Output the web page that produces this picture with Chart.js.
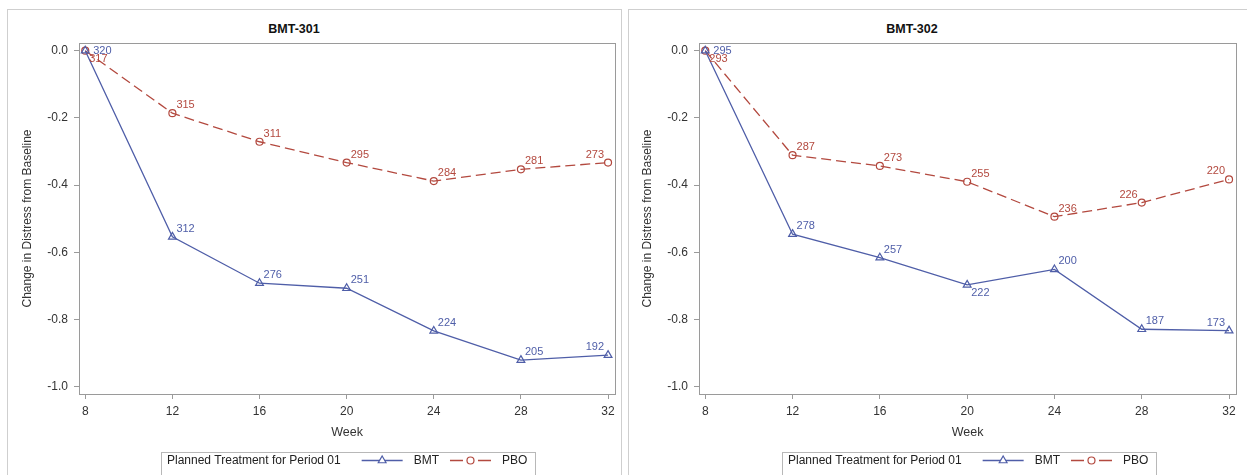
<!DOCTYPE html>
<html lang="en">
<head>
<meta charset="UTF-8" />
<title>Change in Distress from Baseline by Week</title>
<script src="https://cdn.jsdelivr.net/npm/chart.js@4/dist/chart.umd.min.js"></script>
<style>
  *, *::before, *::after { box-sizing: border-box; margin: 0; padding: 0; }
  body {
    width: 1247px;
    height: 475px;
    overflow: hidden;
    background: #fff;
    position: relative;
    font-family: 'Liberation Sans', Arial, sans-serif;
    color: #222;
  }
  .panel { position: absolute; top: 9px; height: 480px; border: 1px solid #cfcfcf; }
  .panel--left { left: 7px; width: 615px; }
  .panel--right { left: 628px; width: 630px; }
  .panel__title {
    position: absolute;
    top: 22px;
    transform: translateX(-50%);
    font-weight: bold;
    font-size: 12.5px;
    line-height: 14px;
    color: #111;
    white-space: nowrap;
  }
  canvas { position: absolute; top: 0; display: block; }
</style>
</head>
<body>
  <div class="panel panel--left"></div>
  <div class="panel panel--right"></div>
  <div class="panel__title" style="left:294px">BMT-301</div>
  <div class="panel__title" style="left:912px">BMT-302</div>
  <canvas id="study301" width="621" height="475" style="left:0"></canvas>
  <canvas id="study302" width="622" height="475" style="left:620px"></canvas>

<script>
  const weeks = [8, 12, 16, 20, 24, 28, 32];
  const yTicks = [0, -0.2, -0.4, -0.6, -0.8, -1.0];

  // BMT-301: mean change and n per visit
  const bmt301Change = [0, -0.554, -0.692, -0.707, -0.834, -0.921, -0.906];
  const bmt301N = [320, 312, 276, 251, 224, 205, 192];
  const pbo301Change = [0, -0.186, -0.271, -0.333, -0.388, -0.353, -0.333];
  const pbo301N = [317, 315, 311, 295, 284, 281, 273];

  // BMT-302
  const bmt302Change = [0, -0.546, -0.616, -0.697, -0.651, -0.829, -0.833];
  const bmt302N = [295, 278, 257, 222, 200, 187, 173];
  const pbo302Change = [0, -0.311, -0.343, -0.390, -0.494, -0.452, -0.383];
  const pbo302N = [293, 287, 273, 255, 236, 226, 220];

  const legendTitle = 'Planned Treatment for Period 01';
  const BLUE = '#4f5ea8';
  const RED = '#b3493f';
  const AXIS = '#9a9a9a';
  const TEXT = '#333';

  // box around the plot area (SAS style frame)
  const plotFrame = {
    id: 'plotFrame',
    beforeDatasetsDraw(chart) {
      const { ctx, chartArea: a } = chart;
      ctx.save();
      ctx.strokeStyle = AXIS;
      ctx.lineWidth = 1;
      ctx.strokeRect(Math.round(a.left) + 0.5, Math.round(a.top) + 0.5,
        Math.round(a.right - a.left), Math.round(a.bottom - a.top));
      ctx.restore();
    },
  };

  // n at each visit, written next to the marker
  const pointCounts = {
    id: 'pointCounts',
    afterDatasetsDraw(chart) {
      const ctx = chart.ctx;
      ctx.save();
      ctx.font = '11px "Liberation Sans", Arial, sans-serif';
      ctx.textBaseline = 'middle';
      chart.data.datasets.forEach((ds, di) => {
        const meta = chart.getDatasetMeta(di);
        ctx.fillStyle = ds.borderColor;
        meta.data.forEach((pt, i) => {
          const pos = ds.countPos[i];
          let x = pt.x, y = pt.y;
          ctx.textAlign = 'left';
          if (pos === 'r') { x += 8; }
          else if (pos === 'dr') { x += 4; y += 8; }
          else if (pos === 'ul') { x -= 4; y -= 8; ctx.textAlign = 'right'; }
          else { x += 4; y -= 8; }
          ctx.fillText(String(ds.counts[i]), x, y);
        });
      });
      ctx.restore();
    },
  };

  // boxed legend under the x axis title
  const legendBox = {
    id: 'legendBox',
    afterDraw(chart) {
      const { ctx, chartArea: a } = chart;
      const cx = (a.left + a.right) / 2;
      const left = Math.round(cx - 186);
      const right = Math.round(cx + 188);
      const top = Math.round(a.bottom + 58);
      const y = top + 8.5;
      ctx.save();
      ctx.strokeStyle = '#b8b8b8';
      ctx.lineWidth = 1;
      ctx.strokeRect(left + 0.5, top + 0.5, right - left, 40);
      ctx.font = '12px "Liberation Sans", Arial, sans-serif';
      ctx.textBaseline = 'middle';
      ctx.textAlign = 'left';
      ctx.fillStyle = '#222';
      let x = left + 6;
      ctx.fillText(legendTitle, x, y);
      x += ctx.measureText(legendTitle).width + 21;
      chart.data.datasets.forEach((ds) => {
        ctx.strokeStyle = ds.borderColor;
        ctx.lineWidth = ds.borderWidth;
        // dashed sample: long dash, short piece under the marker, long dash
        ctx.setLineDash(ds.borderDash ? [13, 4, 7, 4, 13] : []);
        ctx.beginPath();
        ctx.moveTo(x, y);
        ctx.lineTo(x + 41, y);
        ctx.stroke();
        ctx.setLineDash([]);
        ctx.fillStyle = '#fff';
        ctx.lineWidth = ds.pointBorderWidth;
        Chart.helpers.drawPoint(ctx, {
          pointStyle: ds.pointStyle,
          radius: ds.pointRadius,
          borderWidth: ds.pointBorderWidth,
          rotation: 0,
        }, x + 20.5, y);
        x += 52;
        ctx.fillStyle = '#222';
        ctx.fillText(ds.label, x, y);
        x += ctx.measureText(ds.label).width + 11;
      });
      ctx.restore();
    },
  };

  function series(values) {
    return weeks.map((w, i) => ({ x: w, y: values[i] }));
  }

  function buildChart(id, bmt, bmtN, bmtPos, pbo, pboN, pboPos) {
    return new Chart(document.getElementById(id), {
      type: 'line',
      data: {
        datasets: [
          {
            label: 'BMT',
            data: series(bmt),
            counts: bmtN,
            countPos: bmtPos,
            borderColor: BLUE,
            borderWidth: 1.3,
            pointStyle: 'triangle',
            pointRadius: 4.5,
            pointBorderWidth: 1.2,
            pointBorderColor: BLUE,
            pointBackgroundColor: 'rgba(255,255,255,0)',
            tension: 0,
          },
          {
            label: 'PBO',
            data: series(pbo),
            counts: pboN,
            countPos: pboPos,
            borderColor: RED,
            borderWidth: 1.3,
            borderDash: [10, 5],
            pointStyle: 'circle',
            pointRadius: 3.5,
            pointBorderWidth: 1.2,
            pointBorderColor: RED,
            pointBackgroundColor: 'rgba(255,255,255,0)',
            tension: 0,
          },
        ],
      },
      options: {
        responsive: false,
        animation: false,
        layout: { padding: { top: 43, left: 8, right: 2, bottom: 30 } },
        plugins: {
          legend: { display: false },
          title: { display: false },
          tooltip: { enabled: false },
        },
        scales: {
          x: {
            type: 'linear',
            min: 7.713,
            max: 32.333,
            afterBuildTicks: (s) => { s.ticks = weeks.map((v) => ({ value: v })); },
            afterFit: (s) => { s.height = 51; },
            border: { color: AXIS },
            grid: { drawOnChartArea: false, tickLength: 5, color: AXIS },
            ticks: {
              padding: 5,
              autoSkip: false,
              maxRotation: 0,
              color: TEXT,
              font: { family: '"Liberation Sans", Arial, sans-serif', size: 12 },
            },
            title: {
              display: true,
              text: 'Week',
              color: TEXT,
              font: { family: '"Liberation Sans", Arial, sans-serif', size: 12.5 },
              padding: { top: 0, bottom: 5 },
            },
          },
          y: {
            min: -1.0217,
            max: 0.0229,
            afterBuildTicks: (s) => { s.ticks = yTicks.map((v) => ({ value: v })); },
            afterFit: (s) => { s.width = 71; },
            border: { color: AXIS },
            grid: { drawOnChartArea: false, tickLength: 5, color: AXIS },
            ticks: {
              padding: 6,
              color: TEXT,
              font: { family: '"Liberation Sans", Arial, sans-serif', size: 12 },
              callback: (v) => Number(v).toFixed(1),
            },
            title: {
              display: true,
              text: 'Change in Distress from Baseline',
              color: TEXT,
              font: { family: '"Liberation Sans", Arial, sans-serif', size: 12 },
              padding: { top: 12, bottom: 0 },
            },
          },
        },
      },
      plugins: [plotFrame, pointCounts, legendBox],
    });
  }

  buildChart('study301',
    bmt301Change, bmt301N, ['r', 'ur', 'ur', 'ur', 'ur', 'ur', 'ul'],
    pbo301Change, pbo301N, ['dr', 'ur', 'ur', 'ur', 'ur', 'ur', 'ul']);

  buildChart('study302',
    bmt302Change, bmt302N, ['r', 'ur', 'ur', 'dr', 'ur', 'ur', 'ul'],
    pbo302Change, pbo302N, ['dr', 'ur', 'ur', 'ur', 'ur', 'ul', 'ul']);
</script>
</body>
</html>
